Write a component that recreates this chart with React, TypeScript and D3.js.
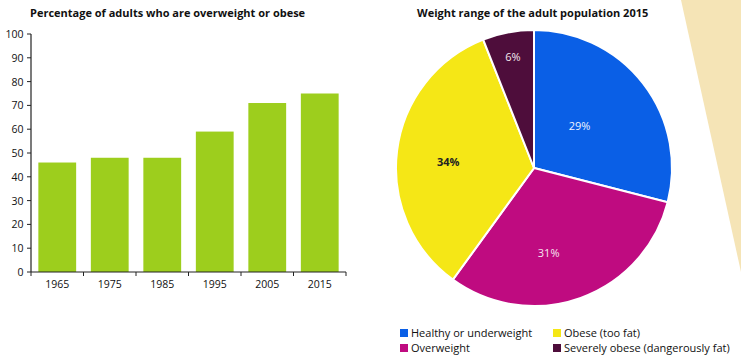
import React from "react";
import * as d3 from "d3";

const years = ["1965", "1975", "1985", "1995", "2005", "2015"];
const percentages = [46, 48, 48, 59, 71, 75];
const yTicks = [0, 10, 20, 30, 40, 50, 60, 70, 80, 90, 100];

const pieCategories = ["Healthy or underweight", "Overweight", "Obese (too fat)", "Severely obese (dangerously fat)"];
const pieValues = [29, 31, 34, 6];
const pieColors = ["#0a5fe6", "#bf0b80", "#f5e716", "#4e0d3b"];
const pieLabelColors = ["#f0f4ff", "#f7e6f0", "#222222", "#f3e8ee"];
const labelRadius = [62, 86, 86, 113];
const labelAngleShift = [-5, 10, -3, 0];

const FONT = "'Open Sans', 'Noto Sans', sans-serif";

export default function App() {
  const W = 741, H = 357;
  const x = d3.scaleBand().domain(years).range([31, 346]).paddingInner(0.28).paddingOuter(0.14);
  const y = d3.scaleLinear().domain([0, 100]).range([272, 34]);
  const tickX = d3.range(years.length + 1).map((i) => 31 + (i * (346 - 31)) / years.length);

  const cx = 534, cy = 168, R = 138;
  const pie = d3.pie<number>().sort(null).value((d) => d);
  const arcs = pie(pieValues);
  const arcGen = d3.arc<d3.PieArcDatum<number>>().innerRadius(0).outerRadius(R);

  const legendPos = [
    { x: 400, y: 337 },
    { x: 400, y: 352 },
    { x: 553, y: 337 },
    { x: 553, y: 352 },
  ];

  return (
    <svg width={W} height={H} style={{ position: "absolute", left: 0, top: 0, background: "#fff" }} fontFamily={FONT}>
      <polygon points="681,0 741,0 741,272" fill="#f5e4b6" />
      {/* Bar chart */}
      <text x={30} y={17} fontSize={11} fontWeight="bold" fill="#111">Percentage of adults who are overweight or obese</text>
      {years.map((yr, i) => (
        <rect key={yr} x={x(yr)} y={y(percentages[i])} width={x.bandwidth()} height={y(0) - y(percentages[i])} fill="#9dce1d" />
      ))}
      <line x1={31} x2={31} y1={34} y2={272} stroke="#222" strokeWidth={1.2} />
      <line x1={31} x2={346} y1={272} y2={272} stroke="#222" strokeWidth={1.2} />
      {yTicks.map((t) => (
        <g key={t}>
          <line x1={27} x2={31} y1={y(t)} y2={y(t)} stroke="#222" strokeWidth={1} />
          <text x={23.5} y={y(t) + 4} textAnchor="end" fontSize={10.5} fill="#111">{t}</text>
        </g>
      ))}
      {tickX.map((tx, i) => (
        <line key={i} x1={tx} x2={tx} y1={272} y2={276} stroke="#222" strokeWidth={1} />
      ))}
      {years.map((yr) => (
        <text key={yr} x={(x(yr) as number) + x.bandwidth() / 2} y={288} textAnchor="middle" fontSize={10.5} fill="#111">{yr}</text>
      ))}

      {/* Pie chart */}
      <text x={417} y={17} fontSize={11} fontWeight="bold" fill="#111">Weight range of the adult population 2015</text>
      <g transform={`translate(${cx},${cy})`}>
        {arcs.map((a, i) => (
          <path key={i} d={arcGen(a) as string} fill={pieColors[i]} stroke="#fff" strokeWidth={2} />
        ))}
        {arcs.map((a, i) => {
          const ang = (a.startAngle + a.endAngle) / 2 + (labelAngleShift[i] * Math.PI) / 180;
          const lx = Math.sin(ang) * labelRadius[i];
          const ly = -Math.cos(ang) * labelRadius[i];
          return (
            <text key={i} x={lx} y={ly + 4} textAnchor="middle" fontSize={11} fontWeight={i === 2 ? "bold" : "normal"} fill={pieLabelColors[i]}>
              {pieValues[i]}%
            </text>
          );
        })}
      </g>
      {pieCategories.map((c, i) => (
        <g key={c}>
          <rect x={legendPos[i].x} y={legendPos[i].y - 8} width={8} height={8} fill={pieColors[i]} />
          <text x={legendPos[i].x + 11} y={legendPos[i].y} fontSize={11} fill="#111">{c}</text>
        </g>
      ))}
    </svg>
  );
}
